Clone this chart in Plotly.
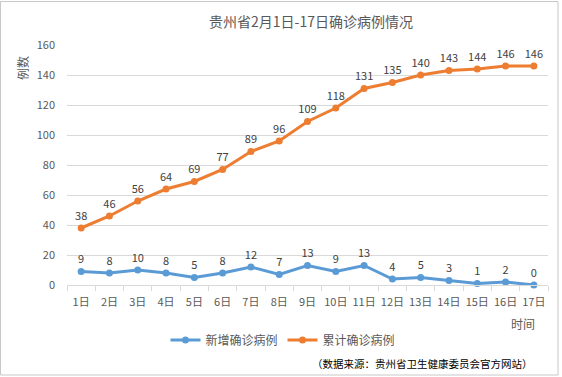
import plotly.graph_objects as go

days = [f"{i}日" for i in range(1, 18)]
new_cases = [9, 8, 10, 8, 5, 8, 12, 7, 13, 9, 13, 4, 5, 3, 1, 2, 0]
cum_cases = [38, 46, 56, 64, 69, 77, 89, 96, 109, 118, 131, 135, 140, 143, 144, 146, 146]
series_names = ["新增确诊病例", "累计确诊病例"]
title_text = "贵州省2月1日-17日确诊病例情况"
source_text = "（数据来源：贵州省卫生健康委员会官方网站）"

FONT = "Noto Sans CJK SC, Microsoft YaHei, sans-serif"
W, H = 562, 377
L, R, T, B = 67, 14, 45, 92
pw, ph = W - L - R, H - T - B

def px(x):
    return (x - L) / pw

def py(y):
    return (H - B - y) / ph

fig = go.Figure()
fig.add_trace(go.Scatter(
    x=days, y=new_cases, name=series_names[0], mode="lines+markers+text",
    line=dict(color="#5B9BD5", width=3), marker=dict(size=7, color="#5B9BD5"),
    text=[str(v) for v in new_cases], textposition="top center",
    textfont=dict(size=11, color="#404040", family=FONT), cliponaxis=False,
))
fig.add_trace(go.Scatter(
    x=days, y=cum_cases, name=series_names[1], mode="lines+markers+text",
    line=dict(color="#ED7D31", width=3), marker=dict(size=7, color="#ED7D31"),
    text=[str(v) for v in cum_cases], textposition="top center",
    textfont=dict(size=11, color="#404040", family=FONT), cliponaxis=False,
))

fig.update_layout(
    width=W, height=H,
    margin=dict(l=L, r=R, t=T, b=B, autoexpand=False),
    paper_bgcolor="white", plot_bgcolor="white",
    font=dict(family=FONT, color="#595959", size=11),
    title=dict(text=title_text, x=311 / W, xanchor="center",
               y=1 - 22 / H, yanchor="middle",
               font=dict(size=14, color="#595959", family=FONT)),
    showlegend=True,
    legend=dict(orientation="h", xref="container", yref="container",
                x=283 / W, xanchor="center", y=1 - 340 / H, yanchor="middle",
                font=dict(size=12, color="#595959", family=FONT),
                itemwidth=30, bgcolor="rgba(0,0,0,0)"),
    xaxis=dict(
        type="category", range=[-0.5, len(days) - 0.5],
        showgrid=False, showline=True, linecolor="#D9D9D9", linewidth=1,
        ticks="outside", tickson="boundaries", ticklen=5, tickcolor="#D9D9D9",
        tickangle=0, ticklabelstandoff=7, automargin=False,
        tickfont=dict(size=11, color="#595959"), fixedrange=True,
    ),
    yaxis=dict(
        range=[0, 160], dtick=20, showgrid=True, gridcolor="#D9D9D9", gridwidth=1,
        zeroline=False, showline=False, ticks="", ticklabelstandoff=11, automargin=False,
        tickfont=dict(size=11, color="#595959"), fixedrange=True,
    ),
    annotations=[
        dict(text="例数", textangle=-90, x=px(22), y=py(68), xref="paper", yref="paper",
             xanchor="center", yanchor="middle",
             showarrow=False, font=dict(size=12, color="#595959")),
        dict(text="时间", x=px(523), y=py(323), xref="paper", yref="paper",
             xanchor="center", yanchor="middle",
             showarrow=False, font=dict(size=12, color="#595959")),
        dict(text=source_text, x=px(535), y=py(363), xref="paper", yref="paper",
             xanchor="right", yanchor="middle",
             showarrow=False, font=dict(size=10.5, color="#000000")),
    ],
    shapes=[
        dict(type="rect", xref="paper", yref="paper",
             x0=px(0.5), x1=px(558), y0=py(375), y1=py(1.5),
             line=dict(color="#C8C8C8", width=1), fillcolor="rgba(0,0,0,0)", layer="above"),
    ],
)

fig.write_html("out.html", config={"displayModeBar": False},
               post_script="document.body.style.margin='0px';")
